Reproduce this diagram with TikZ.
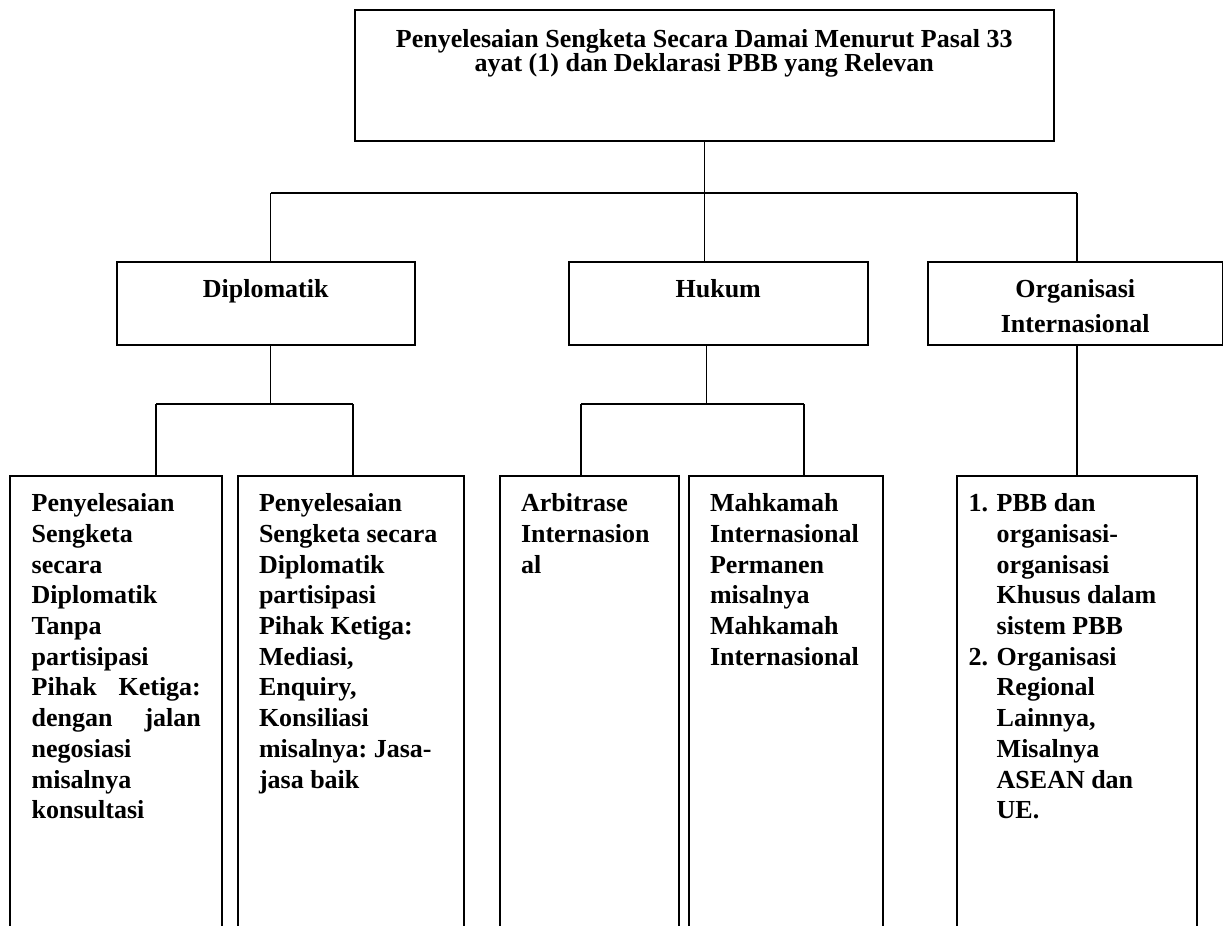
\documentclass[tikz,border=0pt]{standalone}
\usepackage{fontspec}
\setmainfont{Liberation Serif}
\hyphenpenalty=10000
\exhyphenpenalty=10000

\begin{document}
\begin{tikzpicture}[x=0.5pt, y=-0.5pt,
    kotak/.style={draw, line width=1pt, anchor=north west, inner ysep=0pt, inner xsep=0pt},
    utama/.style={kotak, font=\bfseries\fontsize{13pt}{12.4pt}\selectfont},
    jenis/.style={kotak, font=\bfseries\fontsize{13pt}{17.5pt}\selectfont},
    rincian/.style={kotak, inner xsep=10.5pt, font=\bfseries\fontsize{13pt}{15.35pt}\selectfont},
    garis/.style={line width=0.65pt}]

  \useasboundingbox (0,0) rectangle (1223,926);
  \clip (0,0) rectangle (1223,926);

  % Kotak utama
  \node[utama] (utama) at (353.5,9) {\parbox[t][65.25pt][t]{349.75pt}{\centering
    \lineskiplimit=-5pt\relax
    \rule{0pt}{18.5pt}Penyelesaian Sengketa Secara Damai Menurut Pasal 33\\
    ayat (1) dan Deklarasi PBB yang Relevan}};

  % Tiga jenis penyelesaian
  \node[jenis] (dip) at (115.5,261) {\parbox[t][41.25pt][t]{149.25pt}{\centering
    \rule{0pt}{17.85pt}Diplomatik}};
  \node[jenis] (huk) at (568,261) {\parbox[t][41.25pt][t]{149.25pt}{\centering
    \rule{0pt}{17.85pt}Hukum}};
  \node[jenis] (org) at (927,261) {\parbox[t][41.25pt][t]{147.25pt}{\centering
    \rule{0pt}{17.85pt}Organisasi\\ Internasional}};

  % Rincian (terpotong di bawah)
  \node[rincian, inner xsep=10.7pt] (a1) at (9.3,475) {\parbox[t][232.5pt][t]{84.6pt}{\raggedright
    \rule{0pt}{17.85pt}Penyelesaian\\
    Sengketa\\
    secara\\
    Diplomatik\\
    Tanpa\\
    partisipasi\\
    Pihak\hspace{\fill}Ketiga:\\
    dengan\hspace{\fill}jalan\\
    negosiasi\\
    misalnya\\
    konsultasi}};
  \node[rincian] (a2) at (237,475) {\parbox[t][232.5pt][t]{91.85pt}{\raggedright
    \rule{0pt}{17.85pt}Penyelesaian\\
    Sengketa~secara\\
    Diplomatik\\
    partisipasi\\
    Pihak~Ketiga:\\
    Mediasi,\\
    Enquiry,\\
    Konsiliasi\\
    misalnya:~Jasa-\\
    jasa~baik}};
  \node[rincian] (b1) at (499,475) {\parbox[t][232.5pt][t]{68.35pt}{\raggedright
    \rule{0pt}{17.85pt}Arbitrase\\
    Internasion\\
    al}};
  \node[rincian] (b2) at (688,475) {\parbox[t][232.5pt][t]{75.85pt}{\raggedright
    \rule{0pt}{17.85pt}Mahkamah\\
    Internasional\\
    Permanen\\
    misalnya\\
    Mahkamah\\
    Internasional}};
  \node[rincian, inner xsep=5.85pt] (c1) at (956,475) {\parbox[t][232.5pt][t]{108.45pt}{\raggedright
    \rule{0pt}{17.85pt}\makebox[14pt][l]{1.}PBB~dan\\
    \hspace*{14pt}organisasi-\\
    \hspace*{14pt}organisasi\\
    \hspace*{14pt}Khusus~dalam\\
    \hspace*{14pt}sistem~PBB\\
    \makebox[14pt][l]{2.}Organisasi\\
    \hspace*{14pt}Regional\\
    \hspace*{14pt}Lainnya,\\
    \hspace*{14pt}Misalnya\\
    \hspace*{14pt}ASEAN~dan\\
    \hspace*{14pt}UE.}};

  % Garis penghubung
  \coordinate (bkiri) at (270.5,193);
  \coordinate (bkanan) at (1077,193);
  \coordinate (d1) at (156,404);
  \coordinate (d2) at (353,404);
  \coordinate (h1) at (581,404);
  \coordinate (h2) at (804,404);
  \coordinate (hk) at (706.7,404);

  \draw[garis] (utama.south) -- (utama.south |- bkiri);
  \draw[garis] (bkiri) -- (bkanan);
  \draw[garis] (bkiri) -- (bkiri |- dip.north);
  \draw[garis] (utama.south |- bkiri) -- (utama.south |- huk.north);
  \draw[garis] (bkanan) -- (bkanan |- org.north);

  \draw[garis] (bkiri |- dip.south) -- (bkiri |- d1);
  \draw[garis] (d1) -- (d2);
  \draw[garis] (d1) -- (d1 |- a1.north);
  \draw[garis] (d2) -- (d2 |- a2.north);

  \draw[garis] (hk |- huk.south) -- (hk);
  \draw[garis] (h1) -- (h2);
  \draw[garis] (h1) -- (h1 |- b1.north);
  \draw[garis] (h2) -- (h2 |- b2.north);

  \draw[garis] (bkanan |- org.south) -- (bkanan |- c1.north);

\end{tikzpicture}
\end{document}
